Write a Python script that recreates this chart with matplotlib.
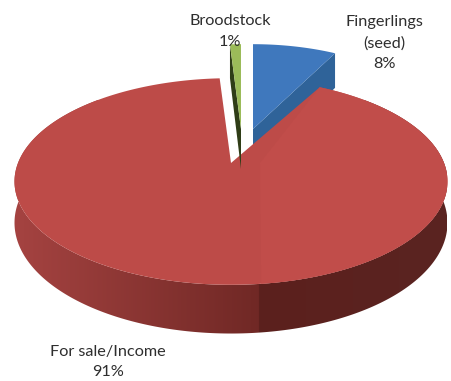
import numpy as np
import matplotlib
matplotlib.use("Agg")
import matplotlib.pyplot as plt
from matplotlib.colors import LinearSegmentedColormap, Normalize
from matplotlib.patches import Polygon

categories = ["Fingerlings\n(seed)", "For sale/Income", "Broodstock"]
shares = [8, 91, 1]
top_colors = ["#3f78bd", "#bd4b48", "#9bbb59"]
face_colors = ["#2f6399", "#7d2d2a", "#2f3d17"]

# each slice is pulled out, so each gets its own apex position and x radius
apexes = [(253, 129), (231, 163), (241, 129)]
x_radii = [197, 213, 207]
label_pos = [(384, 43), (108, 362), (230, 31.5)]

Y_RADIUS = 100
PERSPECTIVE = 0.179   # far side of the disc shrinks, near side grows
DEPTH = 40
SEAM_X = 260

plt.rcParams["font.family"] = ["Lato", "DejaVu Sans"]


def project(theta, apex, x_radius, drop=0.0):
    """Clockwise-from-north angle(s) on the disc -> pixel position."""
    u, v = np.sin(theta), np.cos(theta)
    w = 1 + PERSPECTIVE * v
    return apex[0] + x_radius * u / w, apex[1] - Y_RADIUS * v / w + drop / w


fig = plt.figure(figsize=(4.51, 3.81), dpi=100)
ax = fig.add_axes([0, 0, 1, 1])
ax.set_xlim(0, 451)
ax.set_ylim(381, 0)
ax.axis("off")

# wall shading runs left to right with a hard step at the seam
seam = (SEAM_X - 14) / 433
wall_cmap = LinearSegmentedColormap.from_list("wall", [
    (0.0, "#a54341"), (seam, "#702825"), (seam + 0.0001, "#5c201d"), (1.0, "#5a2421")])

edges = np.radians(np.cumsum([0] + shares) * 3.6)

# far slices first, the big red one sits in front of them
for i in [2, 0, 1]:
    t0, t1 = edges[i], edges[i + 1]
    apex, rx = apexes[i], x_radii[i]
    ts = np.linspace(t0, t1, 400)
    xs, ys = project(ts, apex, rx)

    if i == 1:
        xb, yb = project(ts, apex, rx, DEPTH)
        wall = Polygon(np.c_[np.r_[xs, xb[::-1]], np.r_[ys, yb[::-1]]], fc="none", ec="none",
                       transform=ax.transData)
        ax.add_patch(wall)
        grad = ax.imshow(np.linspace(0, 1, 866)[None, :], cmap=wall_cmap, norm=Normalize(0, 1),
                         extent=(14, 447, 340, 100), aspect="auto", zorder=i + 1)
        grad.set_clip_path(wall)
        ax.set_xlim(0, 451)
        ax.set_ylim(381, 0)
    else:
        # cut face that shows below the leading edge
        t_cut = t0 if i == 2 else t1
        rim = project(t_cut, apex, rx)
        rim_low = project(t_cut, apex, rx, DEPTH)
        ax.fill([apex[0], rim[0], rim_low[0], apex[0]],
                [apex[1], rim[1], rim_low[1], apex[1] + DEPTH],
                color=face_colors[i], lw=0, zorder=i + 1)

    ax.fill(np.r_[apex[0], xs], np.r_[apex[1], ys], color=top_colors[i], lw=0, zorder=i + 1.5)

    if i == 1:
        # right half of the disc is a touch brighter
        keep = xs >= SEAM_X
        ax.fill(np.r_[SEAM_X, xs[keep]], np.r_[apex[1], ys[keep]],
                color="#c14d4a", lw=0, zorder=i + 1.6)

for name, share, (lx, ly) in zip(categories, shares, label_pos):
    ax.text(lx, ly, f"{name}\n{share}%", ha="center", va="center", fontsize=11.7,
            color="#2e2e2e", linespacing=1.62, zorder=10)

fig.savefig("out.png", dpi=100)
